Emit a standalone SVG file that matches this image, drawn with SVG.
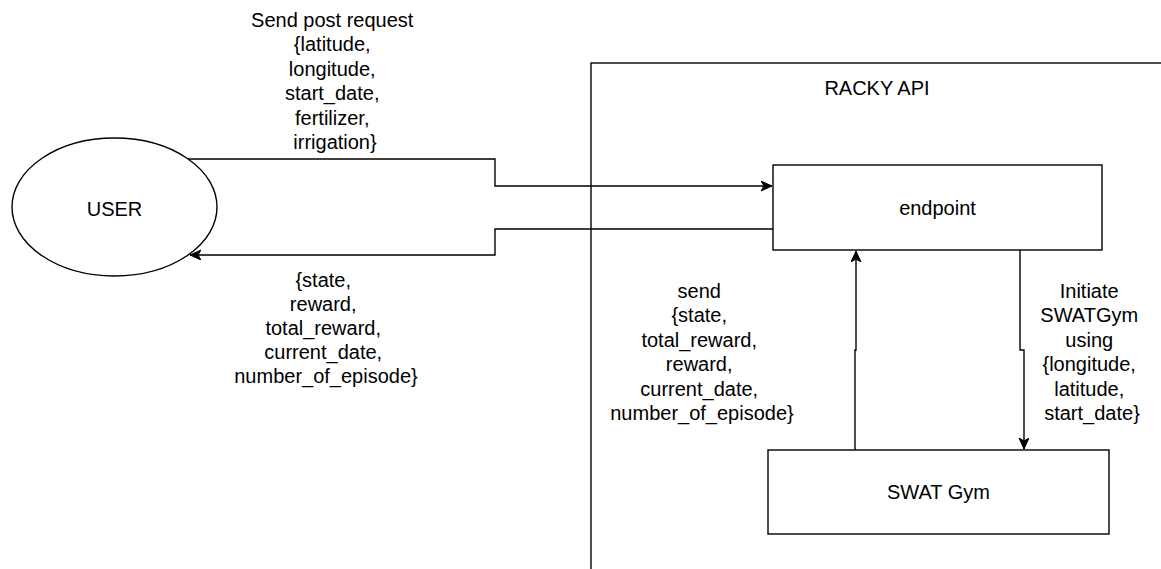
<svg xmlns="http://www.w3.org/2000/svg" width="1161" height="569" viewBox="0 0 1161 569">
  <style>
    .shape { fill: #ffffff; stroke: #000000; stroke-width: 1.4; }
    .edge { fill: none; stroke: #000000; stroke-width: 1.4; }
    text { font-family: "Liberation Sans", Arial, Helvetica, sans-serif; font-size: 20px; fill: #000000; text-anchor: middle; }
  </style>
  <defs>
    <marker id="arrow" markerWidth="14" markerHeight="12" refX="11" refY="5" orient="auto" markerUnits="userSpaceOnUse">
      <path d="M0,0 L11,5 L0,10 L3,5 Z" fill="#000000" stroke="#000000" stroke-width="1"/>
    </marker>
  </defs>

  <!-- API container, runs off the right and bottom edges -->
  <g id="racky-api">
    <rect class="shape" x="591" y="63" width="620" height="560"/>
    <text x="877" y="95">RACKY API</text>
  </g>

  <g id="user">
    <ellipse class="shape" cx="114.5" cy="207" rx="102.5" ry="69"/>
    <text x="114.5" y="216">USER</text>
  </g>

  <g id="endpoint">
    <rect class="shape" x="773" y="165" width="329" height="85"/>
    <text x="937.5" y="215">endpoint</text>
  </g>

  <g id="swat-gym">
    <rect class="shape" x="768" y="450" width="341" height="84"/>
    <text x="938.5" y="499">SWAT Gym</text>
  </g>

  <g id="connectors">
    <!-- request: user to endpoint -->
    <path class="edge" d="M188,159 L495,159 L495,186 L772,186" marker-end="url(#arrow)"/>
    <!-- response: endpoint to user -->
    <path class="edge" d="M773,229 L495,229 L495,255 L190,255" marker-end="url(#arrow)"/>
    <!-- results: gym to endpoint -->
    <path class="edge" d="M855,450 L855,350 L856,350 L856,251" marker-end="url(#arrow)"/>
    <!-- init: endpoint to gym -->
    <path class="edge" d="M1020,250 L1020,350 L1024,350 L1024,449" marker-end="url(#arrow)"/>

    <text x="335">
      <tspan x="335" y="27">Send post request</tspan>
      <tspan x="335" y="51.4">{latitude,</tspan>
      <tspan x="335" y="75.8">longitude,</tspan>
      <tspan x="335" y="100.2">start_date,</tspan>
      <tspan x="335" y="124.6">fertilizer,</tspan>
      <tspan x="335" y="149">irrigation}</tspan>
    </text>

    <text x="326">
      <tspan x="326" y="287">{state,</tspan>
      <tspan x="326" y="311">reward,</tspan>
      <tspan x="326" y="335">total_reward,</tspan>
      <tspan x="326" y="359">current_date,</tspan>
      <tspan x="326" y="383">number_of_episode}</tspan>
    </text>

    <text x="702">
      <tspan x="702" y="298">send</tspan>
      <tspan x="702" y="322.4">{state,</tspan>
      <tspan x="702" y="346.8">total_reward,</tspan>
      <tspan x="702" y="371.2">reward,</tspan>
      <tspan x="702" y="395.6">current_date,</tspan>
      <tspan x="702" y="420">number_of_episode}</tspan>
    </text>

    <text x="1092">
      <tspan x="1092" y="298">Initiate</tspan>
      <tspan x="1092" y="322.4">SWATGym</tspan>
      <tspan x="1092" y="346.8">using</tspan>
      <tspan x="1092" y="371.2">{longitude,</tspan>
      <tspan x="1092" y="395.6">latitude,</tspan>
      <tspan x="1092" y="420">start_date}</tspan>
    </text>
  </g>
</svg>
